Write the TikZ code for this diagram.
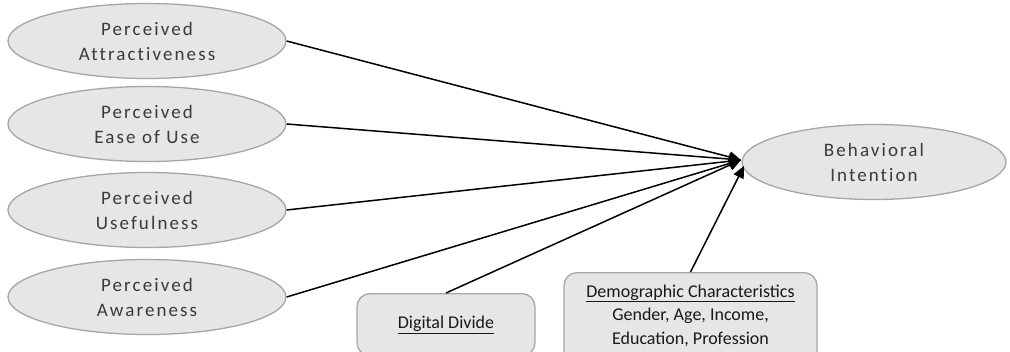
\documentclass[tikz,border=0pt]{standalone}
\usepackage{fontspec}
\setmainfont{Carlito}
\newfontfamily\wideface{Carlito}[LetterSpace=11,Ligatures={NoCommon}]
\usetikzlibrary{shapes.geometric,arrows.meta}

\definecolor{shapefill}{HTML}{E6E6E6}
\definecolor{shapeline}{HTML}{A6A6A6}
\definecolor{labeltext}{HTML}{3A3A3A}

\tikzset{
  construct/.style={ellipse, draw=shapeline, fill=shapefill, line width=1.3pt,
    minimum width=278pt, minimum height=75pt, inner sep=0pt, align=center,
    text=labeltext, font=\wideface\fontsize{19}{25}\selectfont},
  factorbox/.style={rectangle, rounded corners=13pt, draw=shapeline, fill=shapefill,
    line width=1.3pt, align=center, anchor=north, text=black!90,
    font=\fontsize{18}{23.5}\selectfont},
  link/.style={line width=1.5pt, black},
  arrowlink/.style={link, -{Triangle[length=12pt,width=11pt]}},
}

\begin{document}
\begin{tikzpicture}[x=1pt,y=-1pt]
\useasboundingbox (0,0) rectangle (1010,351);
\clip (0,0) rectangle (1010,351);

\node[construct] (attr) at (147,41)  {Perceived\\Attractiveness};
\node[construct] (ease) at (147,124) {Perceived\\Ease of Use};
\node[construct] (usef) at (147,210) {Perceived\\Usefulness};
\node[construct] (awar) at (147,297) {Perceived\\Awareness};

\node[construct, minimum width=264pt] (intent) at (874,162) {Behavioral\\Intention};

\node[factorbox, minimum width=178pt, minimum height=62pt] (divide) at (446,293)
  {\underline{Digital Divide}};
\node[factorbox, minimum width=253pt, minimum height=90pt, inner ysep=12pt,
      anchor=north, text depth=12pt] (demo) at (690.5,272)
  {\underline{Demographic Characteristics}\\Gender, Age, Income,\\Education, Profession};

\coordinate (tipA) at (741,160);
\coordinate (tipB) at (744,166);

\draw[arrowlink] (attr.east) -- (tipA);
\draw[arrowlink] (ease.east) -- (tipA);
\draw[arrowlink] (usef.east) -- (tipA);
\draw[arrowlink] (awar.east) -- (tipA);
\draw[arrowlink] (divide.north) -- (tipA);
\draw[arrowlink] (demo.north) -- (tipB);
\end{tikzpicture}
\end{document}
